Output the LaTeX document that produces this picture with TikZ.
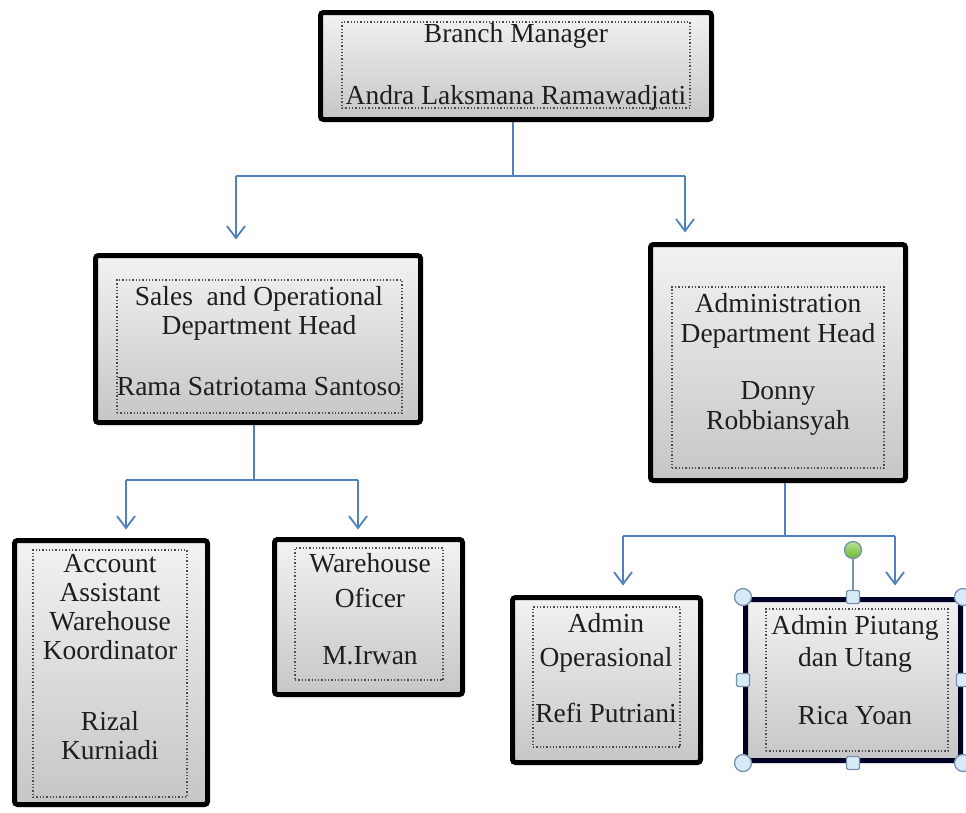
\documentclass[tikz,border=0pt]{standalone}
\usepackage{fontspec}
\setmainfont{Liberation Serif}
\usetikzlibrary{arrows.meta,fit,shadows}

\definecolor{boxtop}{RGB}{242,242,242}
\definecolor{boxbot}{RGB}{198,198,198}
\definecolor{linkblue}{RGB}{79,129,189}
\definecolor{handlefill}{RGB}{214,234,248}
\definecolor{handleline}{RGB}{120,146,170}
\definecolor{rotgreen}{RGB}{122,204,58}
\definecolor{inkdark}{RGB}{30,30,30}

\begin{document}
\begin{tikzpicture}[x=1pt,y=-1pt,
  orgbox/.style={draw=black, line width=5pt, rounded corners=3pt,
    top color=boxtop, bottom color=boxbot, inner sep=0pt,
    drop shadow={opacity=0.3, shadow xshift=1.5pt, shadow yshift=-2.5pt}},
  dotbox/.style={draw=black!70, dotted, line width=1.3pt, inner sep=0pt},
  lbl/.style={align=center, inner sep=0pt, text=inkdark},
  link/.style={draw=linkblue, line width=1.8pt},
  arrowlink/.style={link, -{Straight Barb[length=12pt,width=18pt,line width=1.8pt]}},
  handle/.style={draw=handleline, line width=1.3pt, fill=handlefill},
]
\useasboundingbox (0,0) rectangle (966,812);

% ---------- boxes ----------
\node[orgbox, fit={(320.5,12.5)(711.5,119.5)}] (bm) {};
\node[dotbox, fit={(342,22)(690,108)}] (bm-in) {};
\node[lbl, font=\fontsize{27.5}{29}\selectfont] (bm-t) at (516,67)
  {Branch Manager\\[33pt]Andra Laksmana Ramawadjati};

\node[orgbox, fit={(95.5,255.5)(420.5,422.5)}] (sod) {};
\node[dotbox, fit={(117,280)(402,413)}] (sod-in) {};
\node[lbl, font=\fontsize{27.5}{29}\selectfont] (sod-t) at (259,341)
  {Sales\ \ and Operational\\Department Head\\[32pt]Rama Satriotama Santoso};

\node[orgbox, fit={(650.5,244.5)(905.5,480.5)}] (adh) {};
\node[dotbox, fit={(672,287)(884,468)}] (adh-in) {};
\node[lbl, font=\fontsize{27.5}{30}\selectfont] (adh-t) at (778,364)
  {Administration\\Department Head\\[27pt]Donny\\Robbiansyah};

\node[orgbox, fit={(14.5,540.5)(207.5,804.5)}] (acc) {};
\node[dotbox, fit={(33,550)(187,797)}] (acc-in) {};
\node[lbl, font=\fontsize{27.5}{29}\selectfont] (acc-t) at (110,657)
  {Account\\Assistant\\Warehouse\\Koordinator\\[42pt]Rizal\\Kurniadi};

\node[orgbox, fit={(274.5,539.5)(462.5,694.5)}] (who) {};
\node[dotbox, fit={(295,548)(443,680)}] (who-in) {};
\node[lbl, font=\fontsize{27.5}{35}\selectfont] (who-t) at (370,609)
  {Warehouse\\Oficer\\[22pt]M.Irwan};

\node[orgbox, fit={(512.5,597.5)(700.5,762.5)}] (aop) {};
\node[dotbox, fit={(533,607)(680,747)}] (aop-in) {};
\node[lbl, font=\fontsize{27.5}{34}\selectfont] (aop-t) at (606,668)
  {Admin\\Operasional\\[22pt]Refi Putriani};

\node[orgbox, draw=black!85!blue, fit={(745.5,599.5)(960.5,760.5)}] (apu) {};
\node[dotbox, fit={(766,609)(948,751)}] (apu-in) {};
\node[lbl, font=\fontsize{27.5}{32}\selectfont] (apu-t) at (855,670)
  {Admin Piutang\\dan Utang\\[26pt]Rica Yoan};

% ---------- connectors ----------
\coordinate (j1) at (513,176);
\coordinate (j1l) at (236,176);
\coordinate (j1r) at (685,176);
\draw[link] (bm.south -| j1) -- (j1);
\draw[link] (j1l) -- (j1r);
\draw[arrowlink, shorten >=13.5pt] (j1l) -- (j1l |- sod.north);
\draw[arrowlink, shorten >=9.5pt] (j1r) -- (j1r |- adh.north);

\coordinate (j2) at (254,480);
\coordinate (j2l) at (126,480);
\coordinate (j2r) at (358,480);
\draw[link] (sod.south -| j2) -- (j2);
\draw[link] (j2l) -- (j2r);
\draw[arrowlink, shorten >=8.5pt] (j2l) -- (j2l |- acc.north);
\draw[arrowlink, shorten >=7.5pt] (j2r) -- (j2r |- who.north);

\coordinate (j3) at (785,536);
\coordinate (j3l) at (623,536);
\coordinate (j3r) at (895,536);
\draw[link] (adh.south -| j3) -- (j3);
\draw[link] (j3l) -- (j3r);
\draw[arrowlink, shorten >=9.5pt] (j3l) -- (j3l |- aop.north);
\draw[arrowlink, shorten >=11.5pt] (j3r) -- (j3r |- apu.north);

% ---------- selection handles on the last box ----------
\node[circle, draw=handleline, line width=1.3pt, inner sep=0pt, minimum size=17pt,
  top color=rotgreen!55!white, bottom color=rotgreen!90!black] (rot) at (853,550) {};
\draw[draw=handleline, line width=1.6pt] (rot.south) -- (apu.north -| rot);
\foreach \p/\q in {north west/nw, north east/ne, south west/sw, south east/se}
  \node[handle, circle, inner sep=0pt, minimum size=17pt] (h-\q) at (apu.\p) {};
\foreach \p/\q in {north/n, south/s, west/w, east/e}
  \node[handle, rectangle, rounded corners=1.5pt, inner sep=0pt, minimum size=13pt] (h-\q) at (apu.\p) {};
\end{tikzpicture}
\end{document}
